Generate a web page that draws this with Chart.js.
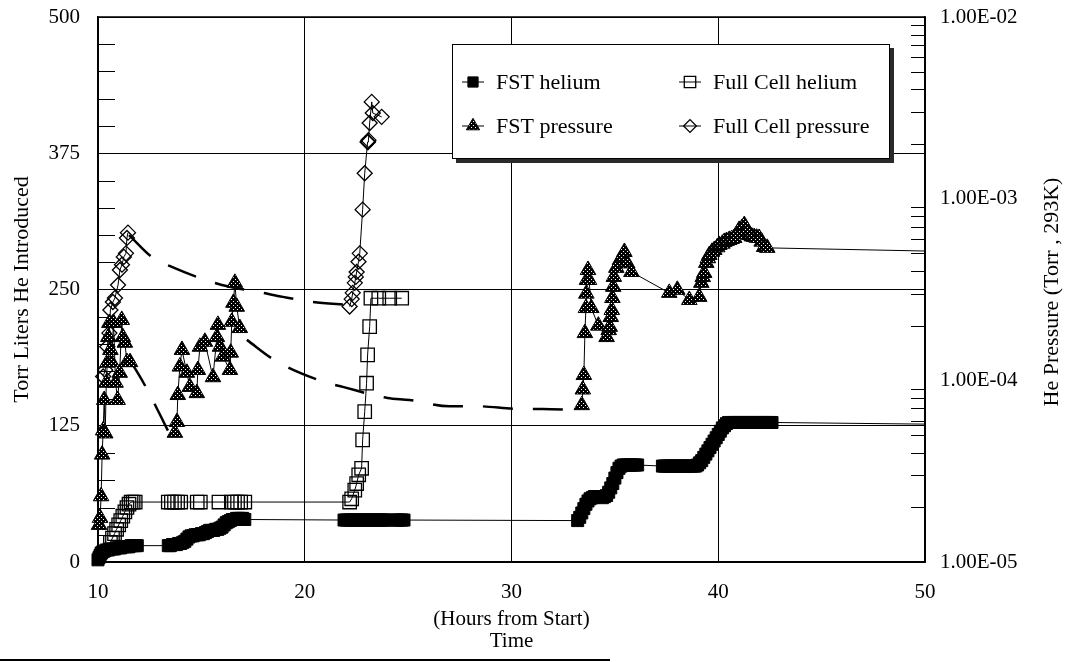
<!DOCTYPE html>
<html>
<head>
<meta charset="utf-8">
<title>Helium introduced and He pressure vs time</title>
<script src="https://cdn.jsdelivr.net/npm/chart.js@4.4.1/dist/chart.umd.min.js"></script>
<style>
  html, body { margin: 0; padding: 0; background: #fff; }
  #wrap { position: relative; width: 1071px; height: 662px; }
</style>
</head>
<body>
<div id="wrap"><canvas id="chart" width="1071" height="662"></canvas></div>
<script>
// values (hours from start)

// FST helium, Torr-L (left axis)
const fstHeliumHours = [
  10.0, 10.05, 10.1, 10.15, 10.2, 10.3, 10.4, 10.5, 10.6, 10.7, 10.8, 10.9, 11.0, 11.1, 11.2, 11.3, 11.4, 11.5, 11.6, 11.7, 11.8, 11.9,
  13.4, 13.5, 13.6, 13.7, 13.8, 13.9, 14.0, 14.1, 14.2, 14.3, 14.4, 14.5, 14.6, 14.7, 14.8, 14.9, 15.0, 15.1, 15.2, 15.3, 15.4, 15.5, 15.6, 15.7, 15.8, 15.9, 16.0, 16.1, 16.2, 16.3, 16.4, 16.5, 16.6, 16.7, 16.8, 16.9, 17.0, 17.1,
  21.9, 22.0, 22.1, 22.2, 22.3, 22.4, 22.5, 22.6, 22.7, 22.8, 22.9, 23.0, 23.1, 23.2, 23.3, 23.4, 23.5, 23.6, 23.7, 23.8, 23.9, 24.0, 24.4, 24.5, 24.6, 24.7, 24.8,
  33.2, 33.3, 33.4, 33.5, 33.6, 33.7, 33.8, 33.9, 34.0, 34.1, 34.2, 34.4, 34.5, 34.6, 34.7, 34.8, 34.9, 35.0, 35.1, 35.2, 35.3, 35.4, 35.5, 35.6, 35.7, 35.8, 35.9, 36.0, 36.1,
  37.3, 37.4, 37.5, 37.6, 37.7, 37.8, 37.9, 38.0, 38.1, 38.2, 38.3, 38.4, 38.5, 38.6, 38.7, 38.8, 38.9,
  39.0, 39.1, 39.2, 39.3, 39.4, 39.5, 39.6, 39.7, 39.8, 39.9, 40.0, 40.1, 40.2, 40.3, 40.4,
  40.5, 40.6, 40.7, 40.8, 40.9, 41.0, 41.1, 41.2, 41.3, 41.4, 41.5, 41.6, 41.7, 41.8, 41.9, 42.0, 42.1, 42.2, 42.3, 42.4, 42.5, 42.6,
  50.0
];
const fstHeliumTorrL = [
  2, 4, 6, 8, 9, 10, 11, 11, 12, 12, 12, 13, 13, 13, 14, 14, 14, 14, 15, 15, 15, 15,
  15, 15, 16, 16, 16, 17, 17, 18, 19, 21, 23, 24, 24, 25, 25, 25, 26, 26, 27, 28, 29, 29, 29, 30, 30, 31, 32, 34, 36, 37, 38, 39, 39, 40, 40, 40, 40, 39,
  38.5, 38.5, 38.5, 38.5, 38.5, 38.5, 38.5, 38.5, 38.5, 38.5, 38.5, 38.5, 38.5, 38.5, 38.5, 38.5, 38.5, 38.5, 38.5, 38.5, 38.5, 38.5, 38.5, 38.5, 38.5, 38.5, 38.5,
  38, 41, 45, 49, 53, 56, 58, 59, 60, 60, 60, 59, 60, 61, 64, 68, 72, 77, 82, 86, 88, 89, 89, 89, 89, 89, 89, 89, 89,
  88, 88, 88, 88, 88, 88, 88, 88, 88, 88, 88, 88, 88, 88, 88, 88, 88,
  89, 91, 93, 96, 99, 102, 105, 108, 111, 114, 117, 120, 123, 125, 127,
  128, 128, 128, 128, 128, 128, 128, 128, 128, 128, 128, 128, 128, 128, 128, 128, 128, 128, 128, 128, 128, 128,
  126.5
];

// Full Cell helium, Torr-L (left axis)
const cellHeliumHours = [
  10.6, 10.7, 10.8, 10.9, 11.0, 11.1, 11.2, 11.3, 11.4, 11.5, 11.6, 11.7, 11.8,
  13.4, 13.55, 13.7, 13.85, 14.0, 14.8, 14.95, 15.85, 16.45, 16.6, 16.75, 16.9, 17.1,
  22.17, 22.27, 22.42, 22.51, 22.61, 22.75, 22.8, 22.9, 22.99, 23.04, 23.14, 23.2, 23.58, 24.11, 24.69
];
const cellHeliumTorrL = [
  18, 22, 26, 30, 34, 38, 42, 46, 50, 53, 55, 55, 55,
  55, 55, 55, 55, 55, 55, 55, 55, 55, 55, 55, 55, 55,
  55, 58, 66, 72, 80, 86, 112, 138, 164, 190, 216, 242, 242, 242, 242
];

// FST pressure, Torr at 293 K (right axis); null = break in the line
const fstPressHours = [
  10.05, 10.1, 10.15, 10.2, 10.25, 10.3, 10.35, 10.4, 10.45, 10.5, 10.55, 10.6, 10.65, 10.75, 10.85, 10.95, 11.05, 11.15, 11.2, 11.3, 11.4, 11.55,
  12.5,
  13.72, 13.82, 13.86, 13.96, 14.06, 14.3, 14.44, 14.78, 14.83, 14.93, 15.17, 15.56, 15.75, 15.8, 15.9, 16.04, 16.38, 16.42, 16.47, 16.55, 16.62, 16.71, 16.86,
  25.0,
  33.4, 33.45, 33.5, 33.55, 33.6, 33.62, 33.65, 33.7, 33.75, 33.86, 34.2, 34.6, 34.7, 34.75, 34.8, 34.85, 34.88, 34.92, 34.95, 35.07,
  35.25, 35.36, 35.46, 35.6, 35.8, 37.63, 38.02, 38.6, 39.08, 39.18, 39.25, 39.32, 39.42, 39.5, 39.57, 39.7, 39.81, 39.95, 40.05, 40.2,
  40.29, 40.4, 40.53, 40.65, 40.77, 40.9, 41.01, 41.15, 41.26, 41.4, 41.5, 41.62, 41.74, 41.86, 41.98, 42.1, 42.22, 42.37, 50.0
];
const fstPressTorr = [
  1.6e-5, 1.75e-5, 2.3e-5, 3.9e-5, 5.3e-5, 7.8e-5, 5.1e-5, 9.7e-5, 1.25e-4, 1.73e-4, 2.07e-4, 1.47e-4, 1.26e-4, 2.07e-4, 9.7e-5, 7.8e-5, 1.1e-4, 2.15e-4, 1.73e-4, 1.61e-4, 1.26e-4, 1.26e-4,
  null,
  5.14e-5, 5.9e-5, 8.3e-5, 1.19e-4, 1.47e-4, 1.1e-4, 9.2e-5, 8.5e-5, 1.14e-4, 1.53e-4, 1.63e-4, 1.04e-4, 1.73e-4, 2.02e-4, 1.53e-4, 1.35e-4, 1.14e-4, 1.42e-4, 2.1e-4, 2.67e-4, 3.44e-4, 2.54e-4, 1.94e-4,
  null,
  7.3e-5, 8.9e-5, 1.07e-4, 1.82e-4, 2.5e-4, 3.0e-4, 3.57e-4, 4.05e-4, 3.57e-4, 2.5e-4, 2.0e-4, 1.73e-4, 1.89e-4, 1.97e-4, 2.23e-4, 2.44e-4, 2.84e-4, 3.27e-4, 3.71e-4, 4.16e-4,
  4.6e-4, 4.78e-4, 5.09e-4, 4.4e-4, 3.95e-4, 3.03e-4, 3.15e-4, 2.77e-4, 2.88e-4, 3.44e-4, 3.7e-4, 3.9e-4, 4.43e-4, 4.7e-4, 4.9e-4, 5.1e-4, 5.22e-4, 5.4e-4, 5.56e-4, 5.65e-4,
  5.78e-4, 5.85e-4, 5.93e-4, 6.0e-4, 6.08e-4, 6.4e-4, 6.73e-4, 6.9e-4, 7.16e-4, 6.7e-4, 6.31e-4, 6.2e-4, 6.15e-4, 6.1e-4, 6.08e-4, 5.8e-4, 5.42e-4, 5.36e-4, 5.15e-4
];

// Full Cell pressure, Torr at 293 K (right axis)
const cellPressHours = [
  10.25, 10.35, 10.45, 10.55, 10.6, 10.72, 10.82, 10.97, 11.06, 11.16, 11.25, 11.35, 11.4, 11.45,
  16.0,
  22.17, 22.27, 22.32, 22.42, 22.47, 22.51, 22.6, 22.66, 22.8, 22.9, 23.04, 23.06, 23.08, 23.14, 23.24, 23.29, 23.72
];
const cellPressTorr = [
  1.05e-4, 1.14e-4, 1.53e-4, 1.82e-4, 2.44e-4, 2.7e-4, 2.84e-4, 3.35e-4, 4.05e-4, 4.33e-4, 4.78e-4, 5.0e-4, 6.08e-4, 6.5e-4,
  null,
  2.55e-4, 2.8e-4, 3.03e-4, 3.44e-4, 3.71e-4, 3.95e-4, 4.5e-4, 5.0e-4, 8.7e-4, 1.38e-3, 2.05e-3, 2.05e-3, 2.1e-3, 2.61e-3, 3.41e-3, 2.96e-3, 2.82e-3
];

// dashed pump-down curves (no legend entry)
const cellDecayHours = [11.5, 12.66, 13.57, 15.07, 15.99, 17.97, 18.94, 20.39, 22.08];
const cellDecayTorr = [6.3e-4, 4.72e-4, 4.21e-4, 3.61e-4, 3.35e-4, 3.03e-4, 2.88e-4, 2.7e-4, 2.6e-4];
const fstDecay1Hours = [11.55, 12.2, 13.05, 13.6];
const fstDecay1Torr = [1.29e-4, 9.7e-5, 6.3e-5, 4.7e-5];
const fstDecay2Hours = [17.2, 18.55, 20.82, 21.84, 24.0, 25.07, 27.0, 28.36, 30.29, 31.5, 33.19];
const fstDecay2Torr = [1.67e-4, 1.29e-4, 9.9e-5, 9.2e-5, 8.0e-5, 7.8e-5, 7.2e-5, 7.2e-5, 6.96e-5, 6.95e-5, 6.87e-5];

// axis ticks
const hourTicks = [10, 20, 30, 40, 50];
const heliumTicks = [0, 125, 250, 375, 500];
const pressureTicks = [1e-5, 1e-4, 1e-3, 1e-2];

const pairs = (xs, ys) => xs.map((x, i) => ({ x: x, y: ys[i] }));

function sci(v) {
  const e = Math.round(Math.log10(v));
  return '1.00E' + (e < 0 ? '-' : '+') + String(Math.abs(e)).padStart(2, '0');
}

// the run-out line to the right edge carries no marker
function sizeExceptLast(r) {
  return (c) => (c.dataIndex === c.dataset.data.length - 1 && c.dataset.data[c.dataIndex].x >= 49.9 ? 0 : r);
}

// pin the scale box sizes so the plot area lands where the original has it
function pinBox(size) {
  return (s) => {
    if (s.isHorizontal()) {
      s.height = size;
      s.paddingLeft = 0; s.paddingRight = 0;
    } else {
      s.width = size;
      s.paddingTop = 0; s.paddingBottom = 0;
    }
  };
}

// black triangle fill with white speckles
const pc = document.createElement('canvas');
pc.width = 4; pc.height = 4;
const pg = pc.getContext('2d');
pg.fillStyle = '#000'; pg.fillRect(0, 0, 4, 4);
pg.fillStyle = '#fff'; pg.fillRect(1, 1, 1, 1); pg.fillRect(3, 3, 1, 1);
const dots = pg.createPattern(pc, 'repeat');

const SERIF = '"Liberation Serif", "Times New Roman", serif';
Chart.defaults.font.family = SERIF;
Chart.defaults.color = '#000';

// plot frame plus the short inner minor ticks
const frameTicks = {
  id: 'frameTicks',
  beforeDatasetsDraw(chart) {
    const { ctx, chartArea: a, scales } = chart;
    ctx.save();
    ctx.strokeStyle = '#000';
    ctx.lineWidth = 1;
    ctx.beginPath();
    for (let v = 25; v < 500; v += 25) {
      if (v % 125 === 0) continue;
      const y = Math.round(scales.y.getPixelForValue(v)) + 0.5;
      ctx.moveTo(a.left, y);
      ctx.lineTo(a.left + 17, y);
    }
    for (let d = -5; d < -2; d++) {
      for (let k = 2; k <= 9; k++) {
        const y = Math.round(scales.y2.getPixelForValue(k * Math.pow(10, d))) + 0.5;
        ctx.moveTo(a.right - 14, y);
        ctx.lineTo(a.right, y);
      }
    }
    ctx.stroke();
    ctx.lineWidth = 1.5;
    ctx.strokeRect(a.left, a.top, a.right - a.left, a.bottom - a.top);
    ctx.restore();
  }
};

// boxed legend inside the plot, two columns
const boxLegend = {
  id: 'boxLegend',
  afterDatasetsDraw(chart) {
    const ctx = chart.ctx;
    ctx.save();
    ctx.fillStyle = '#2a2a2a';
    ctx.fillRect(456, 48, 438, 115);
    ctx.fillStyle = '#fff';
    ctx.fillRect(452, 44, 438, 115);
    ctx.strokeStyle = '#000';
    ctx.lineWidth = 1;
    ctx.strokeRect(452.5, 44.5, 437, 114);

    const spots = [[473, 82], [690, 82], [473, 126], [690, 126]];
    spots.forEach((p, i) => {
      const ds = chart.data.datasets[i];
      const x = p[0], y = p[1];
      ctx.strokeStyle = '#000';
      ctx.lineWidth = 1;
      ctx.beginPath();
      ctx.moveTo(x - 11, y);
      ctx.lineTo(x + 11, y);
      ctx.stroke();
      ctx.fillStyle = ds.pointBackgroundColor;
      ctx.strokeStyle = '#000';
      ctx.lineWidth = ds.pointBorderWidth;
      Chart.helpers.drawPoint(ctx, {
        pointStyle: ds.pointStyle,
        radius: ds.markerSize * 0.85,
        borderWidth: ds.pointBorderWidth,
        rotation: 0
      }, x, y);
      ctx.fillStyle = '#000';
      ctx.font = '22px ' + SERIF;
      ctx.textBaseline = 'middle';
      ctx.textAlign = 'left';
      ctx.fillText(ds.label, x + 23, y + 1);
    });
    ctx.restore();
  },
  afterDraw(chart) {
    const ctx = chart.ctx;
    ctx.save();
    // right axis title, reading bottom to top
    ctx.translate(1052, 292);
    ctx.rotate(-Math.PI / 2);
    ctx.fillStyle = '#000';
    ctx.font = '22px ' + SERIF;
    ctx.textAlign = 'center';
    ctx.textBaseline = 'middle';
    ctx.fillText('He Pressure (Torr , 293K)', 0, 0);
    ctx.restore();
    // rule along the bottom of the page
    ctx.save();
    ctx.fillStyle = '#000';
    ctx.fillRect(0, 659, 610, 2);
    ctx.restore();
  }
};

const markerBase = {
  borderColor: '#000',
  borderWidth: 1,
  pointBorderColor: '#000',
  tension: 0,
  clip: false
};
const dashBase = {
  yAxisID: 'y2',
  borderColor: '#000',
  borderWidth: 2.5,
  borderDash: [30, 20],
  pointRadius: 0,
  cubicInterpolationMode: 'monotone',
  clip: false
};

new Chart(document.getElementById('chart'), {
  type: 'line',
  data: {
    datasets: [
      Object.assign({}, markerBase, {
        label: 'FST helium',
        data: pairs(fstHeliumHours, fstHeliumTorrL),
        yAxisID: 'y',
        pointStyle: 'rect',
        markerSize: 8.5,
        pointRadius: sizeExceptLast(8.5),
        pointBackgroundColor: '#000',
        pointBorderWidth: 1
      }),
      Object.assign({}, markerBase, {
        label: 'Full Cell helium',
        data: pairs(cellHeliumHours, cellHeliumTorrL),
        yAxisID: 'y',
        pointStyle: 'rect',
        markerSize: 9.5,
        pointRadius: 9.5,
        pointBackgroundColor: 'rgba(255,255,255,0)',
        pointBorderWidth: 1.3
      }),
      Object.assign({}, markerBase, {
        label: 'FST pressure',
        data: pairs(fstPressHours, fstPressTorr),
        yAxisID: 'y2',
        pointStyle: 'triangle',
        markerSize: 9,
        pointRadius: sizeExceptLast(9),
        pointBackgroundColor: dots,
        pointBorderWidth: 1
      }),
      Object.assign({}, markerBase, {
        label: 'Full Cell pressure',
        data: pairs(cellPressHours, cellPressTorr),
        yAxisID: 'y2',
        pointStyle: 'rectRot',
        markerSize: 7.5,
        pointRadius: 7.5,
        pointBackgroundColor: 'rgba(255,255,255,0)',
        pointBorderWidth: 1.3
      }),
      Object.assign({}, dashBase, { label: 'cell decay', data: pairs(cellDecayHours, cellDecayTorr) }),
      Object.assign({}, dashBase, { label: 'fst decay 1', data: pairs(fstDecay1Hours, fstDecay1Torr) }),
      Object.assign({}, dashBase, { label: 'fst decay 2', data: pairs(fstDecay2Hours, fstDecay2Torr) })
    ]
  },
  options: {
    responsive: false,
    animation: false,
    devicePixelRatio: 1,
    layout: { padding: { top: 17, left: 0, right: 0, bottom: 0 } },
    plugins: { legend: { display: false }, tooltip: { enabled: false } },
    scales: {
      x: {
        type: 'linear',
        min: 10,
        max: 50,
        afterBuildTicks: (s) => { s.ticks = hourTicks.map(v => ({ value: v })); },
        afterFit: pinBox(100),
        grid: { color: '#000', lineWidth: 1, drawTicks: false },
        border: { color: '#000', width: 1.5 },
        ticks: { padding: 18, font: { size: 21 }, color: '#000', maxRotation: 0 },
        title: {
          display: true,
          text: ['(Hours from Start)', 'Time'],
          font: { size: 21, lineHeight: 1.05 },
          color: '#000',
          padding: { top: 0, bottom: 9 }
        }
      },
      y: {
        type: 'linear',
        position: 'left',
        min: 0,
        max: 500,
        afterBuildTicks: (s) => { s.ticks = heliumTicks.map(v => ({ value: v })); },
        afterFit: pinBox(98),
        grid: { color: '#000', lineWidth: 1, drawTicks: false },
        border: { color: '#000', width: 1.5 },
        ticks: { padding: 18, font: { size: 21 }, color: '#000' },
        title: {
          display: true,
          text: 'Torr Liters He Introduced',
          font: { size: 22 },
          color: '#000',
          padding: { top: 9, bottom: 0 }
        }
      },
      y2: {
        type: 'logarithmic',
        position: 'right',
        min: 1e-5,
        max: 1e-2,
        afterBuildTicks: (s) => { s.ticks = pressureTicks.map(v => ({ value: v })); },
        afterFit: pinBox(146),
        grid: { display: false, drawTicks: false },
        border: { display: true, color: '#000', width: 1.5 },
        ticks: { padding: 15, font: { size: 21 }, color: '#000', callback: (v) => sci(v) }
      }
    }
  },
  plugins: [frameTicks, boxLegend]
});
</script>
</body>
</html>
